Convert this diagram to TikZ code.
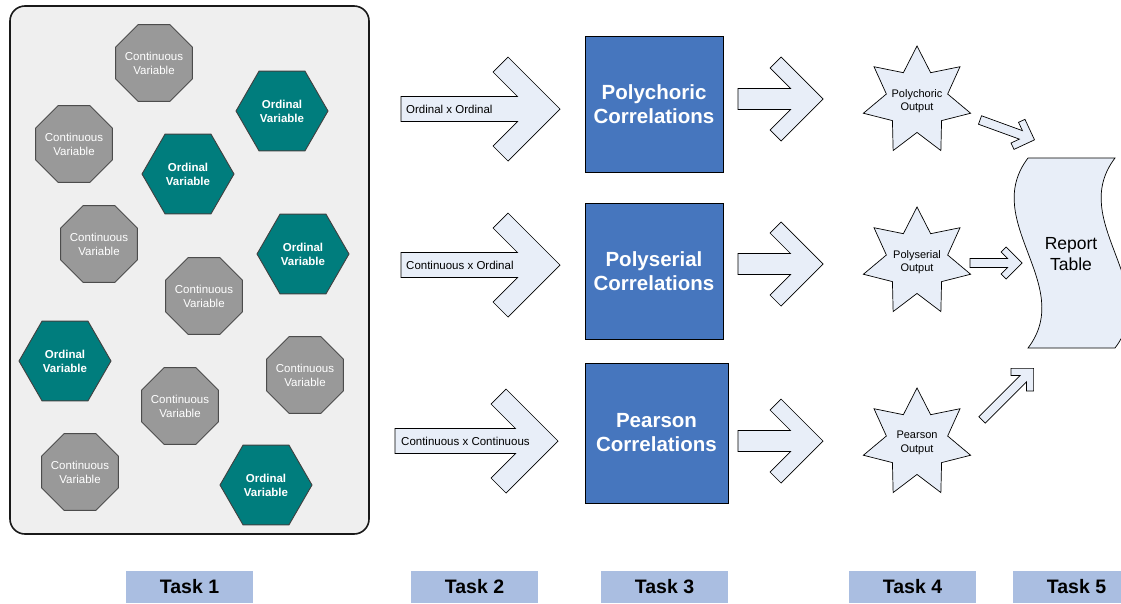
\documentclass[tikz,border=0pt]{standalone}
\usepackage{fontspec}
\setmainfont{Liberation Sans}
\usetikzlibrary{shapes.geometric}
\definecolor{panelbg}{RGB}{239,239,239}
\definecolor{octfill}{RGB}{153,153,153}
\definecolor{hexfill}{RGB}{0,125,125}
\definecolor{arrfill}{RGB}{232,238,248}
\definecolor{boxfill}{RGB}{70,118,190}
\definecolor{taskfill}{RGB}{170,190,225}
\newcommand\chevarrow[6]{%
  \begin{scope}[shift={#1}, rotate=#2]
    \draw[blockarrow] (0,-#4) -- ({#3-2*#6-#4},-#4) -- ({#3-#5-#6},{-#5+#6}) -- ({#3-#5},-#5) -- (#3,0)
      -- ({#3-#5},#5) -- ({#3-#5-#6},{#5-#6}) -- ({#3-2*#6-#4},#4) -- (0,#4) -- cycle;
  \end{scope}}
\newcommand\contnode[2]{%
  \node[contvar] (#1) at (#2) {};
  \node[contvartext] (#1t) at (#1.center) {Continuous\\Variable};}
\tikzset{
  contvar/.style={regular polygon, regular polygon sides=8, minimum size=83pt, inner sep=0pt,
    fill=octfill, draw=black!70, line width=0.9pt},
  contvartext/.style={text=white, align=center, inner sep=0pt,
    font=\fontsize{11.5}{14}\selectfont},
  ordvar/.style={regular polygon, regular polygon sides=6, minimum size=92pt, inner sep=0pt,
    fill=hexfill, draw=black!75, line width=0.9pt, text=white, align=center,
    font=\bfseries\fontsize{11.5}{14}\selectfont},
  blockarrow/.style={fill=arrfill, draw=black, line width=0.7pt, line join=miter},
  corrbox/.style={fill=boxfill, draw=black, line width=0.9pt, text=white, align=center,
    font=\bfseries\fontsize{20.5}{24}\selectfont, inner sep=0pt},
  outstar/.style={star, star points=7, star point ratio=1.75, minimum size=110pt, inner sep=0pt,
    fill=arrfill, draw=black, line width=0.7pt},
  startext/.style={align=center, inner sep=0pt, font=\fontsize{11}{13.5}\selectfont},
  arrlabel/.style={anchor=west, inner sep=0pt, font=\fontsize{11.5}{14}\selectfont},
  tasklabel/.style={fill=taskfill, minimum width=127pt, minimum height=32pt, inner sep=0pt,
    font=\bfseries\fontsize{19.5}{23}\selectfont},
}
\begin{document}
\begin{tikzpicture}[x=1pt, y=-1pt]
\useasboundingbox (0,0) rectangle (1121,603);
\clip (0,0) rectangle (1121,603);

% Task 1 panel
\draw[fill=panelbg, draw=black!90, line width=1.6pt, rounded corners=15pt] (10,6) rectangle (369,534);
\contnode{c1}{154,63}
\contnode{c2}{74,144}
\contnode{c3}{99,244}
\contnode{c4}{204,296}
\contnode{c5}{305,375}
\contnode{c6}{180,406}
\contnode{c7}{80,472}
\node[ordvar] (o1) at (282,111) {Ordinal\\Variable};
\node[ordvar] (o2) at (188,174) {Ordinal\\Variable};
\node[ordvar] (o3) at (303,254) {Ordinal\\Variable};
\node[ordvar] (o4) at (65,361) {Ordinal\\Variable};
\node[ordvar] (o5) at (266,485) {Ordinal\\Variable};

% Task 2 arrows
\chevarrow{(401,109)}{0}{159}{12.5}{52}{15}
\chevarrow{(401,265)}{0}{159}{12.5}{52}{15}
\chevarrow{(395,441)}{0}{163}{12.5}{52}{15}
\node[arrlabel] (l1) at (406,109) {Ordinal x Ordinal};
\node[arrlabel] (l2) at (406,265) {Continuous x Ordinal};
\node[arrlabel] (l3) at (401,441) {Continuous x Continuous};

% Task 3 boxes
\node[corrbox, minimum width=138pt, minimum height=136pt] (b1) at (654,104) {Polychoric\\Correlations};
\node[corrbox, minimum width=138pt, minimum height=136pt] (b2) at (654,271) {Polyserial\\Correlations};
\node[corrbox, minimum width=143pt, minimum height=140pt] (b3) at (656.5,433) {Pearson\\Correlations};

% arrows to outputs
\chevarrow{(738,99)}{0}{85}{10.5}{42}{11}
\chevarrow{(738,264)}{0}{85}{10.5}{42}{11}
\chevarrow{(738,441)}{0}{85}{10.5}{42}{11}

% Task 4 stars
\node[outstar] (s1) at (917,101) {};
\node[outstar] (s2) at (917,262) {};
\node[outstar] (s3) at (917,443) {};
\node[startext] (s1t) at (s1.center) {Polychoric\\Output};
\node[startext] (s2t) at (s2.center) {Polyserial\\Output};
\node[startext] (s3t) at (s3.center) {Pearson\\Output};

% Task 5 report table
\draw[blockarrow] (1028,158) -- (1115,158) .. controls (1067,221) and (1163,285) .. (1115,348)
  -- (1028,348) .. controls (1076,285) and (980,221) .. (1028,158) -- cycle;
\node[align=center, inner sep=0pt, font=\fontsize{17.5}{21}\selectfont] (rep) at (1071,254) {Report\\Table};

% thin arrows to report
\chevarrow{(980,120)}{-20}{58}{4.5}{16}{5}
\chevarrow{(970,263)}{0}{52}{4.5}{16}{5}
\chevarrow{(982,420)}{45}{73}{4.5}{16}{5}

% task labels
\node[tasklabel] (t1) at (189.5,587) {Task 1};
\node[tasklabel] (t2) at (474.5,587) {Task 2};
\node[tasklabel] (t3) at (664.5,587) {Task 3};
\node[tasklabel] (t4) at (912.5,587) {Task 4};
\node[tasklabel] (t5) at (1076.5,587) {Task 5};
\end{tikzpicture}
\end{document}
